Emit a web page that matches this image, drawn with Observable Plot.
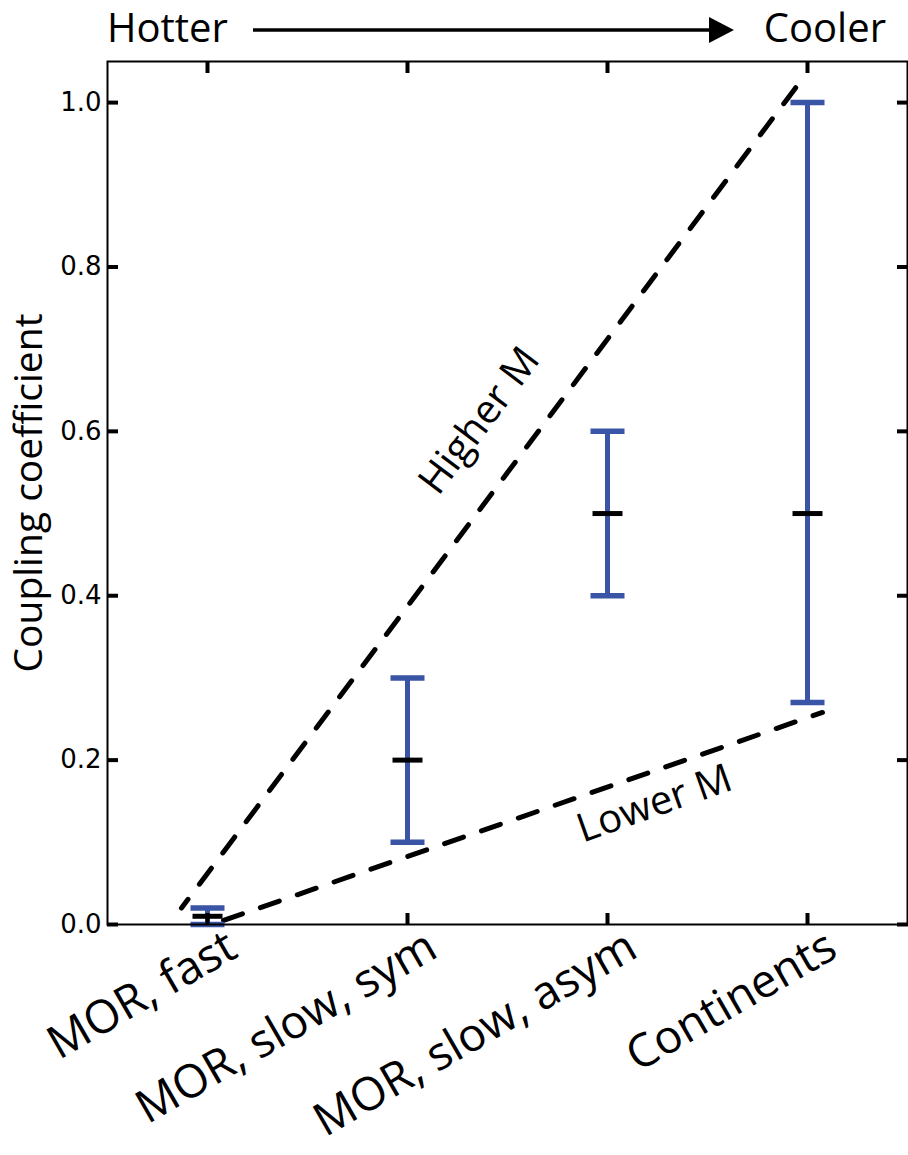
<!DOCTYPE html>
<html>
<head>
<meta charset="utf-8">
<script src="https://cdn.jsdelivr.net/npm/d3@7"></script>
<script src="https://cdn.jsdelivr.net/npm/@observablehq/plot@0.6"></script>
<style>
  body { margin: 0; background: #fff; }
  #wrap { position: relative; width: 908px; height: 1155px; }
  #wrap > svg { position: absolute; left: 0; top: 0; }
  #head { font-family: "Open Sans", sans-serif; font-size: 40px; }
</style>
</head>
<body>
<div id="wrap">
  <div id="chart"></div>
  <svg id="head" width="908" height="61">
    <text x="107" y="42">Hotter</text>
    <line x1="253" y1="30" x2="712" y2="30" stroke="black" stroke-width="3.5"></line>
    <polygon points="709,17 734,30 709,43" fill="black"></polygon>
    <text x="886" y="42" text-anchor="end">Cooler</text>
  </svg>
</div>
<script>
// Tectonic settings, ordered from hotter to cooler lithosphere
const categories = ["MOR, fast", "MOR, slow, sym", "MOR, slow, asym", "Continents"];
const lowValues  = [0.0, 0.1, 0.4, 0.27];
const midValues  = [0.01, 0.2, 0.5, 0.5];
const highValues = [0.02, 0.3, 0.6, 1.0];

const yTicks = [0.0, 0.2, 0.4, 0.6, 0.8, 1.0];

// Bounding trends (category index on x, coupling coefficient on y)
const higherMx = [2.965, -0.13];
const higherMy = [1.026, 0.02];
const lowerMx = [3.075, 0.08];
const lowerMy = [0.258, 0.005];

// Trend label anchors
const trendLabels = ["Higher M", "Lower M"];
const trendLabelX = [1.36, 2.235];
const trendLabelY = [0.613, 0.147];
const trendLabelAngle = [-53, -19.5];

const blue = "#3b55a6";

const rows = categories.map((c, i) => ({i, c, lo: lowValues[i], mid: midValues[i], hi: highValues[i]}));
const higherM = higherMx.map((x, k) => ({x, y: higherMy[k]}));
const lowerM = lowerMx.map((x, k) => ({x, y: lowerMy[k]}));
const labels = trendLabels.map((t, k) => ({t, x: trendLabelX[k], y: trendLabelY[k], a: trendLabelAngle[k]}));
const catIdx = categories.map((_, i) => i);

// horizontal bar symbol used for error-bar caps and central values
const hbar = {
  draw(ctx, size) {
    const r = Math.sqrt(size / Math.PI);
    ctx.moveTo(-r, 0);
    ctx.lineTo(r, 0);
  }
};

const chart = Plot.plot({
  width: 908,
  height: 1155,
  marginLeft: 107,
  marginRight: 1,
  marginTop: 61,
  marginBottom: 231,
  x: {domain: [-0.5, 3.5], axis: null},
  y: {domain: [0, 1.05], axis: null},
  style: {background: "white", color: "black"},
  marks: [
    Plot.line(higherM, {x: "x", y: "y", stroke: "black", strokeWidth: 5, strokeDasharray: "20,19", strokeDashoffset: -8}),
    Plot.line(lowerM, {x: "x", y: "y", stroke: "black", strokeWidth: 5, strokeDasharray: "20,19", strokeDashoffset: 10}),
    Plot.ruleX(rows, {x: "i", y1: "lo", y2: "hi", stroke: blue, strokeWidth: 5}),
    Plot.dot(rows, {x: "i", y: "mid", symbol: hbar, r: 15, stroke: "black", strokeWidth: 5, fill: "none"}),
    Plot.dot(rows, {x: "i", y: "lo", symbol: hbar, r: 17, stroke: blue, strokeWidth: 5.5, fill: "none"}),
    Plot.dot(rows, {x: "i", y: "hi", symbol: hbar, r: 17, stroke: blue, strokeWidth: 5.5, fill: "none"}),
    Plot.text(labels, {x: "x", y: "y", text: "t", rotate: "a", fontSize: 40, fontFamily: "Open Sans", fill: "black"}),
    Plot.frame({stroke: "black", strokeWidth: 2}),
    Plot.axisY(yTicks, {anchor: "left", tickSize: -11, tickPadding: 17, strokeWidth: 4, tickFormat: d3.format(".1f"), fontSize: 26, fontFamily: "DejaVu Sans", label: null}),
    Plot.axisY(yTicks, {anchor: "right", tickSize: -11, strokeWidth: 4, fill: "none", label: null}),
    Plot.axisX(catIdx, {anchor: "bottom", tickSize: -11, strokeWidth: 4, fill: "none", label: null}),
    Plot.axisX(catIdx, {anchor: "top", tickSize: -11, strokeWidth: 4, fill: "none", label: null}),
    Plot.text(categories, {x: (d, i) => i, text: d => d, frameAnchor: "bottom", rotate: -30, textAnchor: "end", lineAnchor: "top", dx: 16, dy: 3, fontSize: 46, fontFamily: "Open Sans", fill: "black"}),
    Plot.text(["Coupling coefficient"], {frameAnchor: "left", dx: -78, rotate: -90, textAnchor: "middle", lineAnchor: "middle", text: d => d, fontSize: 39, fontFamily: "Open Sans", fill: "black"})
  ]
});
document.getElementById("chart").appendChild(chart);
</script>
</body>
</html>
